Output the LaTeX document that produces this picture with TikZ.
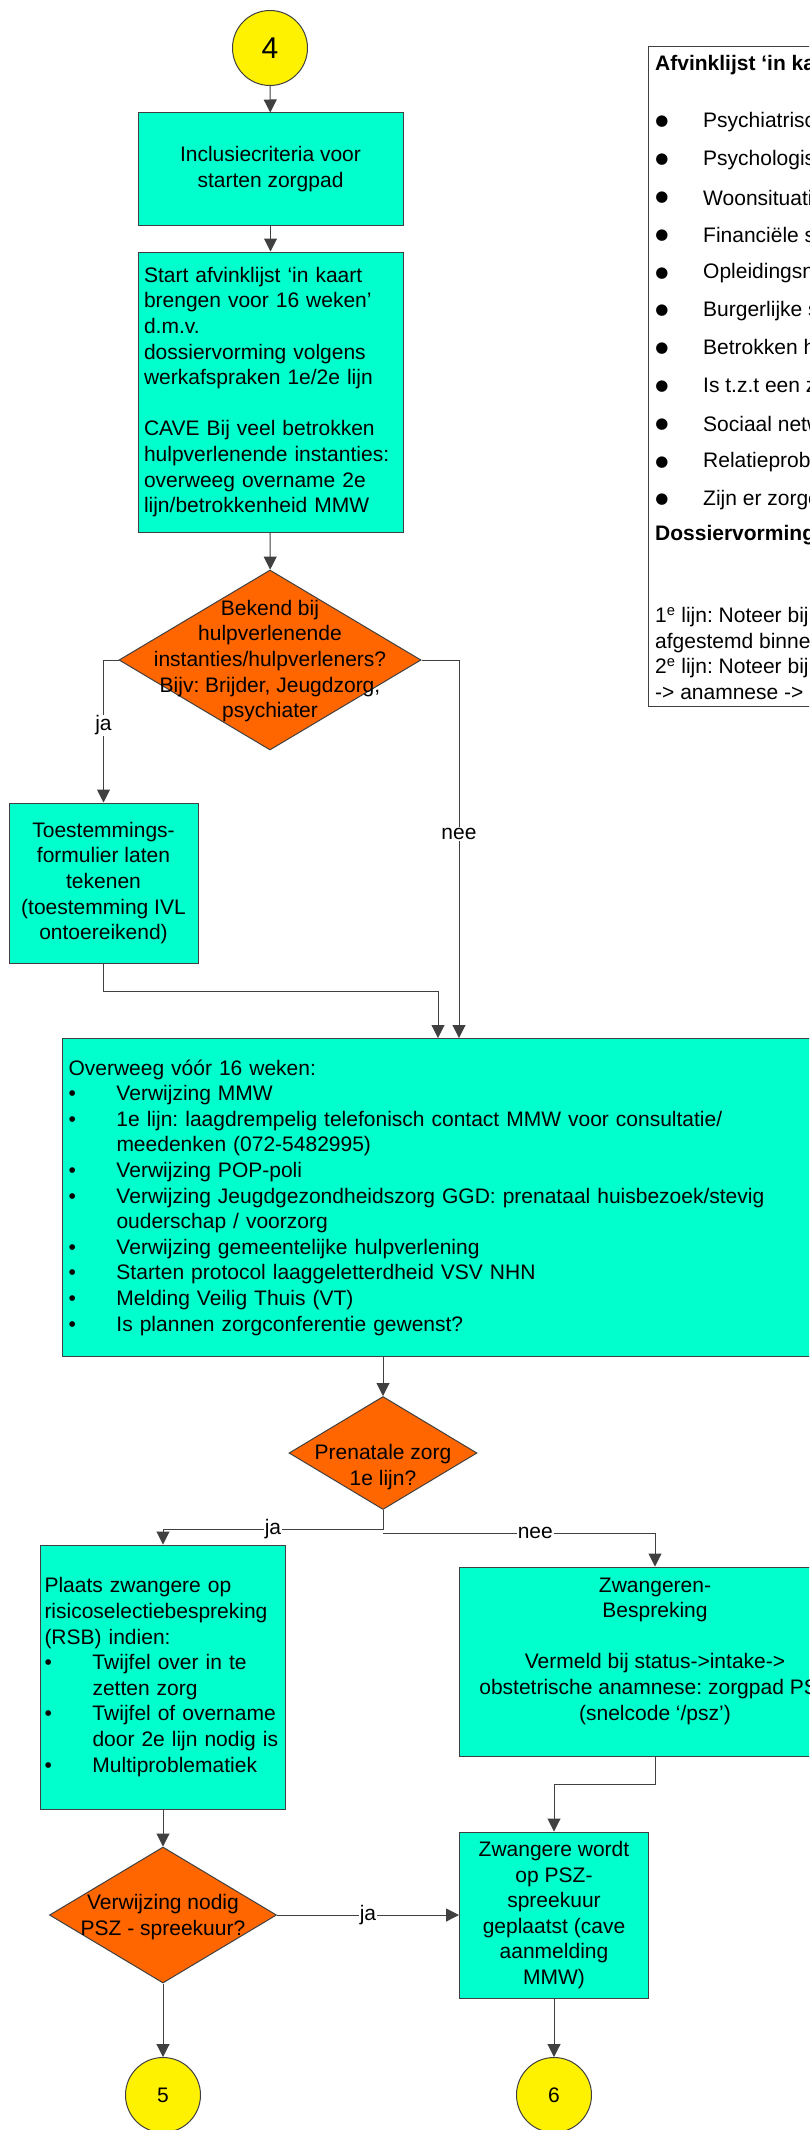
\documentclass[tikz,border=0pt]{standalone}
\usepackage{fontspec}
\setmainfont{Liberation Sans}
\newfontfamily\dotfont{DejaVu Sans}
\usetikzlibrary{shapes.geometric,arrows.meta}
\definecolor{boxgreen}{RGB}{0,255,204}
\definecolor{choiceorange}{RGB}{255,102,0}
\frenchspacing
\newcommand\boxfont{\fontsize{21}{25.6}\selectfont}
\newcommand\itm{\makebox[48pt][l]{\textbullet}}
\newcommand\cnt{\hspace*{48pt}}
\tikzset{
  box/.style={draw=black!75, fill=boxgreen, line width=1pt, inner sep=0pt, font=\boxfont},
  choice/.style={diamond, draw=black!75, fill=choiceorange, line width=1pt, inner sep=0pt},
  connector/.style={circle, draw=black!75, fill=yellow, line width=1pt, minimum size=75pt, inner sep=0pt, font=\boxfont},
  line/.style={draw=black!75, line width=1pt},
  arr/.style={line, -{Triangle[length=13pt,width=13pt]}},
  lbl/.style={fill=white, inner sep=1pt, font=\boxfont},
  txt/.style={align=center, inner sep=0pt, font=\boxfont},
}
\begin{document}
\begin{tikzpicture}[x=1pt, y=-1pt]
\useasboundingbox (0,0) rectangle (809,2130);
\clip (0,0) rectangle (809,2130);
\fill[white] (0,0) rectangle (809,2130);

% start of the path
\node[connector, font=\fontsize{30}{30}\selectfont] (c4) at (270,48) {4};
\node[box, minimum width=265pt, minimum height=112pt, align=center] (incl) at (270.5,169) {Inclusiecriteria voor\\starten zorgpad};
\node[box, minimum width=265pt, minimum height=280pt, text width=253pt, inner xsep=6pt, align=left] (start) at (270.5,392) {Start afvinklijst ‘in kaart\\brengen voor 16 weken’\\d.m.v.\\dossiervorming volgens\\werkafspraken 1e/2e lijn\\[25.6pt]CAVE Bij veel betrokken\\hulpverlenende instanties:\\overweeg overname 2e\\lijn/betrokkenheid MMW};
\node[choice, minimum width=302pt, minimum height=180pt] (q1) at (270,660) {};
\node[txt] (q1t) at (270,661) {Bekend bij\\hulpverlenende\\instanties/hulpverleners?\\Bijv: Brijder, Jeugdzorg,\\psychiater};
\node[box, minimum width=189pt, minimum height=160pt, align=center] (toest) at (103.5,883) {Toestemmings-\\formulier laten\\tekenen\\(toestemming IVL\\ontoereikend)};

% checklist on the right
\node[draw=black!75, line width=1pt, fill=white, anchor=north west, minimum width=300pt, minimum height=660pt] (list) at (648,46) {};
\node[anchor=west, inner sep=0pt, font=\boxfont\bfseries] (listtitle) at (655,65) {Afvinklijst ‘in kaart brengen voor 16 weken’};
\foreach \t [count=\i from 0] in {Psychiatrische, Psychologische, Woonsituatie, Financiële situatie, Opleidingsniveau, Burgerlijke staat, Betrokken hulpverleners, Is t.z.t een zorgconferentie, Sociaal netwerk, Relatieproblematiek, Zijn er zorgen}
{
  \node[anchor=center, inner sep=0pt, font=\dotfont\fontsize{15}{15}\selectfont] (dot\i) at (662,122+37.8*\i) {●};
  \node[anchor=west, inner sep=0pt, font=\boxfont] (item\i) at (703,122+37.8*\i) {\t};
}
\node[anchor=west, inner sep=0pt, font=\boxfont\bfseries] (dostitle) at (655,535) {Dossiervorming};
\node[anchor=north west, inner sep=0pt, align=left, font=\boxfont] (dostext) at (655,607) {1\textsuperscript{e} lijn: Noteer bij\\afgestemd binnen\\2\textsuperscript{e} lijn: Noteer bij\\-> anamnese ->};

% options before 16 weeks
\coordinate (inL) at (438,1038);
\coordinate (inR) at (459,1038);
\node[box, anchor=north west, text width=800pt, inner xsep=6pt, minimum height=318pt, align=left] (main) at (62,1038) {Overweeg vóór 16 weken:\\
\itm Verwijzing MMW\\
\itm 1e lijn: laagdrempelig telefonisch contact MMW voor consultatie/\\
\cnt meedenken (072-5482995)\\
\itm Verwijzing POP-poli\\
\itm Verwijzing Jeugdgezondheidszorg GGD: prenataal huisbezoek/stevig\\
\cnt ouderschap / voorzorg\\
\itm Verwijzing gemeentelijke hulpverlening\\
\itm Starten protocol laaggeletterdheid VSV NHN\\
\itm Melding Veilig Thuis (VT)\\
\itm Is plannen zorgconferentie gewenst?};

% second half
\node[choice, minimum width=188pt, minimum height=113pt] (q2) at (383,1453) {};
\node[txt] (q2t) at (383,1467) {Prenatale zorg\\1e lijn?};
\node[box, minimum width=245pt, minimum height=264pt, text width=237pt, inner xsep=4pt, align=left] (rsb) at (163,1677) {Plaats zwangere op\\risicoselectiebespreking\\(RSB) indien:\\
\itm Twijfel over in te\\\cnt zetten zorg\\
\itm Twijfel of overname\\\cnt door 2e lijn nodig is\\
\itm Multiproblematiek};
\node[box, minimum width=392pt, minimum height=189pt] (zb) at (655,1661.5) {};
\node[txt] (zbt) at (655,1651) {Zwangeren-\\Bespreking\\[25.6pt]Vermeld bij status->intake->\\obstetrische anamnese: zorgpad PSZ\\(snelcode ‘/psz’)};
\node[choice, minimum width=227pt, minimum height=136pt] (q3) at (163,1915) {};
\node[txt] (q3t) at (163,1917) {Verwijzing nodig\\PSZ - spreekuur?};
\node[box, minimum width=189pt, minimum height=166pt, align=center] (ps) at (554,1915) {Zwangere wordt\\op PSZ-\\spreekuur\\geplaatst (cave\\aanmelding\\MMW)};
\node[connector] (c5) at (163,2095) {5};
\node[connector] (c6) at (554,2095) {6};

% connectors
\draw[arr] (c4) -- (incl);
\draw[arr] (incl) -- (start);
\draw[arr] (start) -- (q1);
\draw[arr] (q1.west) -| node[lbl, pos=0.73] (ja1) {ja} (toest.north);
\draw[arr] (q1.east) -| node[lbl, pos=0.73] (nee1) {nee} (inR);
\draw[arr] (toest.south) -- ++(0,28) -| (inL);
\draw[arr] (main.south -| q2.north) -- (q2.north);
\draw[arr] (q2.south) -- ++(0,19) -| node[lbl, pos=0.25] (ja2) {ja} (rsb.north);
\draw[arr] ([yshift=-23pt]q2.south) -| node[lbl, pos=0.28] (nee2) {nee} (zb.north);
\draw[arr] (rsb) -- (q3);
\draw[arr] (zb.south) -- ++(0,28) -| (ps.north);
\draw[arr] (q3.east) -- node[lbl] (ja3) {ja} (ps.west);
\draw[arr] (q3) -- (c5);
\draw[arr] (ps) -- (c6);
\end{tikzpicture}
\end{document}
